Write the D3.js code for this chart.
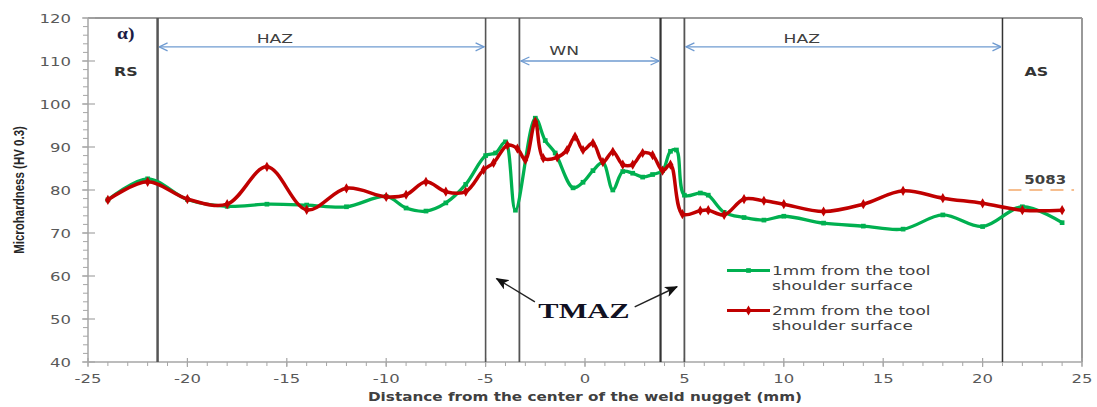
<!DOCTYPE html>
<html>
<head>
<meta charset="utf-8">
<script src="https://cdn.jsdelivr.net/npm/d3@7"></script>
<style>
  html, body { margin: 0; padding: 0; background: #fff; }
  svg { display: block; }
</style>
</head>
<body>
<svg id="chart" width="1097" height="407"></svg>
<script>
// Microhardness profiles across the friction stir weld
const distance1mm = [-24, -22, -20, -18, -16, -14, -12, -10, -9, -8, -7, -6, -5, -4.5, -4, -3.5,
  -2.5, -2, -1.5, -0.6, -0.1, 0.4, 0.9, 1.4, 1.9, 2.4, 2.9, 3.4, 3.9, 4.3, 4.6,
  5.0, 5.8, 6.2, 7, 8, 9, 10, 12, 14, 16, 18, 20, 22, 24];
const hardness1mm = [77.7, 82.6, 77.8, 76.2, 76.7, 76.5, 76.1, 78.5, 75.8, 75.1, 77.0, 81.3, 88.0, 88.6, 91.2, 75.3,
  96.7, 91.5, 88.6, 80.5, 81.8, 84.5, 86.4, 80.0, 84.3, 83.9, 83.0, 83.6, 84.5, 89.0, 89.3,
  78.8, 79.3, 78.8, 74.8, 73.6, 73.0, 73.9, 72.3, 71.6, 70.9, 74.2, 71.5, 76.1, 72.4];

const distance2mm = [-24, -22, -20, -18, -16, -14, -12, -10, -9, -8, -7, -6, -5.1, -4.6, -3.9, -3.4, -3.0,
  -2.5, -2.1, -1.4, -0.9, -0.5, -0.1, 0.4, 0.9, 1.4, 1.9, 2.4, 2.9, 3.4, 3.9, 4.3,
  4.9, 5.8, 6.2, 7, 8, 9, 10, 12, 14, 16, 18, 20, 22, 24];
const hardness2mm = [77.7, 81.9, 77.9, 76.7, 85.4, 75.4, 80.4, 78.4, 78.9, 81.9, 79.6, 79.6, 84.7, 86.3, 90.4, 89.6, 87.0,
  95.9, 87.4, 87.6, 89.3, 92.4, 89.3, 90.9, 86.5, 88.9, 85.9, 85.9, 88.6, 88.1, 84.5, 85.9,
  74.4, 75.2, 75.3, 74.2, 77.9, 77.5, 76.7, 75.0, 76.7, 79.8, 78.1, 76.9, 75.3, 75.3];

const seriesNames = ["1mm from the tool|shoulder surface", "2mm from the tool|shoulder surface"];
const zoneBoundaries = [-21.5, -5, -3.3, 3.8, 5, 21];
const xTickLabels = [-25, -20, -15, -10, -5, 0, 5, 10, 15, 20, 25];
const yTickLabels = [40, 50, 60, 70, 80, 90, 100, 110, 120];
const baseMetalHardness = 80; // 5083

const svg = d3.select("#chart");
const plot = { left: 88, right: 1082, top: 18, bottom: 362 };
const SX = 1.32; // horizontal text stretch

const x = d3.scaleLinear().domain([-25, 25]).range([plot.left, plot.right]);
const y = d3.scaleLinear().domain([40, 120]).range([plot.bottom, plot.top]);

const axisGrey = "#a6a6a6";
const textGrey = "#595959";

function stretchedText(parent, px, py, str, o = {}) {
  return parent.append("text")
    .attr("transform", `translate(${px},${py}) scale(${o.sx || SX},1)`)
    .attr("text-anchor", o.anchor || "middle")
    .attr("dy", o.dy || "0.35em")
    .style("font-family", o.family || "'DejaVu Sans', sans-serif")
    .style("font-size", (o.size || 13) + "px")
    .style("font-weight", o.weight || "normal")
    .style("fill", o.fill || "#404040")
    .text(str);
}

// frame: top and right borders
svg.append("line").attr("x1", plot.left).attr("x2", plot.right).attr("y1", plot.top).attr("y2", plot.top)
  .attr("stroke", "#999").attr("stroke-width", 2);
svg.append("line").attr("x1", plot.right).attr("x2", plot.right).attr("y1", plot.top).attr("y2", plot.bottom)
  .attr("stroke", "#999").attr("stroke-width", 2);

// y axis
const yAxis = svg.append("g").attr("transform", `translate(${plot.left},0)`);
yAxis.append("line").attr("y1", plot.top).attr("y2", plot.bottom).attr("stroke", axisGrey).attr("stroke-width", 1.5);
yAxis.selectAll("line.minor").data(d3.range(40, 121, 2)).join("line").attr("class", "minor")
  .attr("x1", -5).attr("x2", 0).attr("y1", d => y(d)).attr("y2", d => y(d)).attr("stroke", axisGrey).attr("stroke-width", 1);
yAxis.selectAll("line.major").data(yTickLabels).join("line").attr("class", "major")
  .attr("x1", -6).attr("x2", 7).attr("y1", d => y(d)).attr("y2", d => y(d)).attr("stroke", axisGrey).attr("stroke-width", 1.2);
yAxis.selectAll("text").data(yTickLabels).join("text")
  .attr("transform", d => `translate(-17,${y(d)}) scale(${SX},1)`)
  .attr("text-anchor", "end").attr("dy", "0.36em")
  .style("font-family", "'DejaVu Sans', sans-serif").style("font-size", "12.5px").style("fill", textGrey)
  .text(d => d);

// x axis
const xAxis = svg.append("g").attr("transform", `translate(0,${plot.bottom})`);
xAxis.append("line").attr("x1", plot.left).attr("x2", plot.right).attr("stroke", axisGrey).attr("stroke-width", 1.5);
xAxis.selectAll("line.minor").data(d3.range(-25, 26, 1)).join("line").attr("class", "minor")
  .attr("x1", d => x(d)).attr("x2", d => x(d)).attr("y1", 0).attr("y2", 4).attr("stroke", axisGrey).attr("stroke-width", 1);
xAxis.selectAll("line.major").data(xTickLabels).join("line").attr("class", "major")
  .attr("x1", d => x(d)).attr("x2", d => x(d)).attr("y1", -4).attr("y2", 5).attr("stroke", axisGrey).attr("stroke-width", 1.2);
xAxis.selectAll("text").data(xTickLabels).join("text")
  .attr("transform", d => `translate(${x(d)},16) scale(${SX},1)`)
  .attr("text-anchor", "middle").attr("dy", "0.36em")
  .style("font-family", "'DejaVu Sans', sans-serif").style("font-size", "12.5px").style("fill", textGrey)
  .text(d => d);

// axis titles
stretchedText(svg, 585, 397, "Distance from the center of the weld nugget (mm)",
  { size: 12, weight: "bold", sx: 1.27, fill: "#404040" });
svg.append("text")
  .attr("transform", `translate(19,190) scale(${SX},1) rotate(-90)`)
  .attr("text-anchor", "middle").attr("dy", "0.35em")
  .style("font-family", "'Liberation Sans Narrow', 'Liberation Sans', sans-serif")
  .style("font-size", "11.5px").style("font-weight", "bold").style("fill", "#262626")
  .text("Microhardness (HV 0.3)");

// zone boundaries
const zoneStyle = [
  { c: "#555", w: 2.5 }, { c: "#555", w: 1.6 }, { c: "#555", w: 1.8 },
  { c: "#333", w: 2.2 }, { c: "#555", w: 1.8 }, { c: "#333", w: 1.5 }
];
svg.selectAll("line.zone").data(zoneBoundaries).join("line").attr("class", "zone")
  .attr("x1", d => x(d)).attr("x2", d => x(d)).attr("y1", plot.top).attr("y2", plot.bottom)
  .attr("stroke", (d, i) => zoneStyle[i].c).attr("stroke-width", (d, i) => zoneStyle[i].w);

// arrowheads
const defs = svg.append("defs");
defs.append("marker").attr("id", "chev").attr("viewBox", "0 0 10 10").attr("refX", 9.5).attr("refY", 5)
  .attr("markerWidth", 10).attr("markerHeight", 10).attr("markerUnits", "userSpaceOnUse").attr("orient", "auto-start-reverse")
  .append("path").attr("d", "M1,1 L9.5,5 L1,9").attr("fill", "none").attr("stroke", "#6f9bd1").attr("stroke-width", 1.3);
defs.append("marker").attr("id", "solid").attr("viewBox", "0 0 12 10").attr("refX", 11).attr("refY", 5)
  .attr("markerWidth", 13).attr("markerHeight", 11).attr("markerUnits", "userSpaceOnUse").attr("orient", "auto")
  .append("path").attr("d", "M0,0 L12,5 L0,10 L3,5 Z").attr("fill", "#111");

// blue double-headed arrows spanning the zones
const zoneArrows = [
  { from: -21.5, to: -5, at: 113.3, name: "HAZ", lx: -15.6, ly: 115.3 },
  { from: -3.3, to: 3.8, at: 110.0, name: "WN", lx: -1.05, ly: 112.5 },
  { from: 5, to: 21, at: 113.3, name: "HAZ", lx: 10.9, ly: 115.2 }
];
zoneArrows.forEach(a => {
  svg.append("line")
    .attr("x1", x(a.from) + 1.5).attr("x2", x(a.to) - 1.5).attr("y1", y(a.at)).attr("y2", y(a.at))
    .attr("stroke", "#6f9bd1").attr("stroke-width", 1.3)
    .attr("marker-start", "url(#chev)").attr("marker-end", "url(#chev)");
  stretchedText(svg, x(a.lx), y(a.ly), a.name, { size: 13, fill: "#404040" });
});

// side labels
stretchedText(svg, x(-23.1), y(107.6), "RS", { size: 12, weight: "bold", fill: "#333" });
stretchedText(svg, x(22.7), y(107.5), "AS", { size: 12, weight: "bold", fill: "#333" });
stretchedText(svg, x(-23.1), y(116.5), "\u03b1)", { size: 17, weight: "bold", family: "'Liberation Serif', serif", fill: "#1c1c44", sx: 1.15 });

// base metal reference
svg.append("line").attr("x1", x(21.3)).attr("x2", x(24.6)).attr("y1", y(baseMetalHardness)).attr("y2", y(baseMetalHardness))
  .attr("stroke", "#f4a96b").attr("stroke-width", 1.5).attr("stroke-dasharray", "13,8");
stretchedText(svg, x(23.15), y(82.4), "5083", { size: 12.5, weight: "bold", fill: "#404040", sx: 1.2 });

// TMAZ annotation
stretchedText(svg, x(-0.05), y(52.0), "TMAZ", { size: 21, weight: "bold", family: "'Liberation Serif', serif", fill: "#111122", sx: 1.45 });
[[[-2.52, 54.0], [-4.45, 59.4]], [[2.5, 52.8], [4.63, 57.5]]].forEach(([s, e]) => {
  svg.append("line").attr("x1", x(s[0])).attr("y1", y(s[1])).attr("x2", x(e[0])).attr("y2", y(e[1]))
    .attr("stroke", "#222").attr("stroke-width", 1.4).attr("marker-end", "url(#solid)");
});

// hardness series
const series = [
  { xs: distance1mm, ys: hardness1mm, color: "#00b050", width: 3.3, shape: d3.symbolSquare, size: 22 },
  { xs: distance2mm, ys: hardness2mm, color: "#c00000", width: 3.5, shape: d3.symbolDiamond, size: 30 }
];
const line = d3.line().x(d => x(d[0])).y(d => y(d[1])).curve(d3.curveCatmullRom.alpha(0.5));
series.forEach(s => {
  const pts = s.xs.map((v, i) => [v, s.ys[i]]);
  const g = svg.append("g");
  g.append("path").datum(pts).attr("d", line).attr("fill", "none")
    .attr("stroke", s.color).attr("stroke-width", s.width).attr("stroke-linejoin", "round");
  g.selectAll("path.pt").data(pts).join("path").attr("class", "pt")
    .attr("transform", d => `translate(${x(d[0])},${y(d[1])})`)
    .attr("d", d3.symbol().type(s.shape).size(s.size)).attr("fill", s.color);
});

// legend
const legend = svg.append("g");
series.forEach((s, i) => {
  const ly = 270.5 + i * 40;
  legend.append("line").attr("x1", 727).attr("x2", 770).attr("y1", ly).attr("y2", ly)
    .attr("stroke", s.color).attr("stroke-width", 3);
  legend.append("path").attr("transform", `translate(748.5,${ly})`)
    .attr("d", d3.symbol().type(s.shape).size(s.size)).attr("fill", s.color);
  seriesNames[i].split("|").forEach((t, k) => {
    stretchedText(legend, 772, ly + k * 15.5, t, { size: 12.5, anchor: "start", fill: "#404040", sx: 1.35 });
  });
});
</script>
</body>
</html>
